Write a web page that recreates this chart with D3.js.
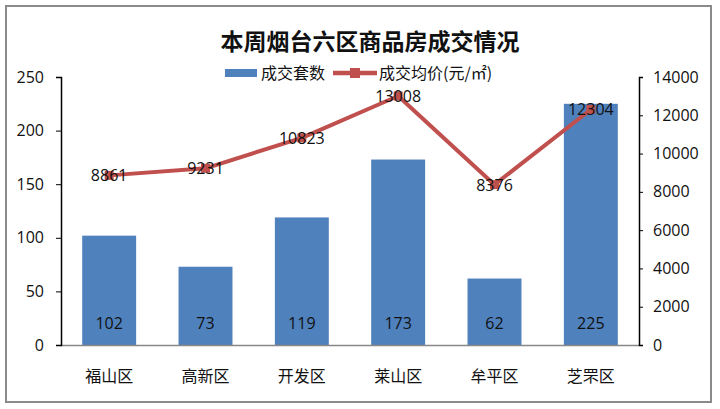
<!DOCTYPE html>
<html><head><meta charset="utf-8">
<script src="https://cdn.jsdelivr.net/npm/d3@7/dist/d3.min.js"></script>
<style>
html,body{margin:0;padding:0;background:#fff;}
text{font-family:"Open Sans","Noto Sans CJK SC",sans-serif;}
.cjk{font-family:"Noto Sans CJK SC","Microsoft YaHei",sans-serif;}
</style></head>
<body><svg id="c" width="720" height="409"></svg>
<script>
const categories = ["福山区","高新区","开发区","莱山区","牟平区","芝罘区"];
const deals = [102, 73, 119, 173, 62, 225];
const prices = [8861, 9231, 10823, 13008, 8376, 12304];
const leftTicks = [0,50,100,150,200,250];
const rightTicks = [0,2000,4000,6000,8000,10000,12000,14000];
const title = "本周烟台六区商品房成交情况";
const legendBar = "成交套数";
const legendLine = "成交均价(元/㎡)";

const svg = d3.select("#c");
const L = 61, R = 639, T = 77, B = 345;
const barColor = "#4F81BD", lineColor = "#C0504D";

// outer border
svg.append("rect").attr("x",6).attr("y",6).attr("width",705).attr("height",396)
  .attr("fill","#fff").attr("stroke","#8a8a8a").attr("stroke-width",2);

const x = d3.scaleBand().domain(categories).range([L,R]).paddingInner(0.44).paddingOuter(0.22);
const yL = d3.scaleLinear().domain([0,250]).range([B,T]);
const yR = d3.scaleLinear().domain([0,14000]).range([B,T]);

// title
svg.append("text").attr("class","cjk").attr("x",370).attr("y",50).attr("text-anchor","middle")
  .attr("font-size",23).attr("font-weight","bold").attr("fill","#111").text(title);

// bars
svg.append("g").selectAll("rect").data(deals).join("rect")
  .attr("x",(d,i)=>x(categories[i])).attr("width",x.bandwidth())
  .attr("y",d=>yL(d)).attr("height",d=>B-yL(d)).attr("fill",barColor);

// x axis line
svg.append("line").attr("x1",L).attr("x2",R).attr("y1",B+0.5).attr("y2",B+0.5)
  .attr("stroke","#888").attr("stroke-width",1.5);

// left axis
const gl = svg.append("g").attr("transform",`translate(${L},0)`)
  .call(d3.axisLeft(yL).tickValues(leftTicks).tickSize(5).tickPadding(12));
gl.select(".domain").attr("stroke","#000").attr("stroke-width",1.5);
gl.selectAll("line").attr("stroke","#000");
gl.selectAll("text").attr("font-size",16).attr("fill","#111");

// right axis
const gr = svg.append("g").attr("transform",`translate(${R},0)`)
  .call(d3.axisRight(yR).tickValues(rightTicks).tickFormat(d3.format("d")).tickSize(4).tickPadding(10));
gr.select(".domain").attr("stroke","#000").attr("stroke-width",1.5);
gr.selectAll("line").attr("stroke","#000");
gr.selectAll("text").attr("font-size",16).attr("fill","#111");

// category labels
svg.append("g").selectAll("text").data(categories).join("text")
  .attr("class","cjk").attr("x",d=>x(d)+x.bandwidth()/2).attr("y",382)
  .attr("text-anchor","middle").attr("font-size",16).attr("fill","#111").text(d=>d);

// bar labels
svg.append("g").selectAll("text").data(deals).join("text")
  .attr("x",(d,i)=>x(categories[i])+x.bandwidth()/2).attr("y",329)
  .attr("text-anchor","middle").attr("font-size",16).attr("fill","#111").text(d=>d);

// line
const cx = i => x(categories[i])+x.bandwidth()/2;
const line = d3.line().x((d,i)=>cx(i)).y(d=>yR(d));
svg.append("path").datum(prices).attr("d",line).attr("fill","none")
  .attr("stroke",lineColor).attr("stroke-width",4).attr("stroke-linejoin","round");
svg.append("g").selectAll("rect").data(prices).join("rect")
  .attr("x",(d,i)=>cx(i)-4.5).attr("y",d=>yR(d)-4.5).attr("width",9).attr("height",9)
  .attr("fill",lineColor);

// line labels
svg.append("g").selectAll("text").data(prices).join("text")
  .attr("x",(d,i)=>cx(i)).attr("y",d=>yR(d)+6)
  .attr("text-anchor","middle").attr("font-size",16).attr("fill","#111").text(d=>d);

// legend
const lg = svg.append("g");
lg.append("rect").attr("x",225).attr("y",69).attr("width",32).attr("height",8).attr("fill",barColor);
lg.append("text").attr("class","cjk").attr("x",261).attr("y",79).attr("font-size",16).attr("fill","#111").text(legendBar);
lg.append("line").attr("x1",333).attr("x2",377).attr("y1",73).attr("y2",73).attr("stroke",lineColor).attr("stroke-width",4.5);
lg.append("rect").attr("x",350).attr("y",68).attr("width",10).attr("height",10).attr("fill",lineColor);
lg.append("text").attr("class","cjk").attr("x",379).attr("y",79).attr("font-size",16).attr("fill","#111").text(legendLine);
</script></body></html>
